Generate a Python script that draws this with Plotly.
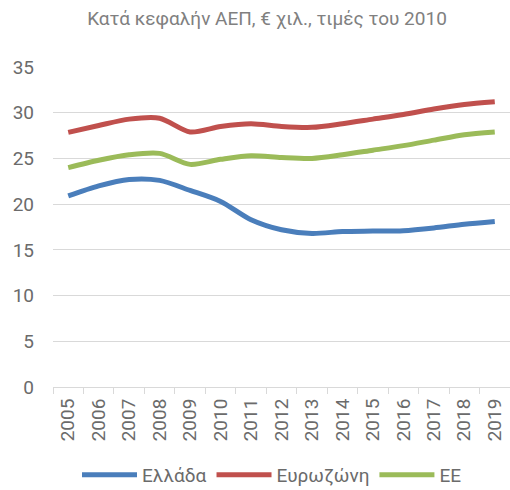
import plotly.graph_objects as go

years = [str(y) for y in range(2005, 2020)]
greece = [20.9, 22.0, 22.7, 22.6, 21.5, 20.3, 18.3, 17.2, 16.8, 17.0, 17.05, 17.1, 17.4, 17.8, 18.1]
eurozone = [27.85, 28.6, 29.3, 29.4, 27.9, 28.5, 28.8, 28.5, 28.4, 28.8, 29.3, 29.8, 30.4, 30.9, 31.2]
eu = [24.0, 24.8, 25.4, 25.55, 24.35, 24.9, 25.3, 25.1, 25.0, 25.4, 25.9, 26.4, 27.0, 27.6, 27.9]

names = ["Ελλάδα", "Ευρωζώνη", "ΕΕ"]
colors = ["#4A7EBB", "#C0504D", "#9BBB59"]
title = "Κατά κεφαλήν ΑΕΠ, € χιλ., τιμές του 2010"

font = "Roboto"
grey = "#6b6b6b"

fig = go.Figure()
for name, vals, col in zip(names, [greece, eurozone, eu], colors):
    fig.add_trace(go.Scatter(x=years, y=vals, name=name, mode="lines",
                             line=dict(color=col, width=5, shape="spline", smoothing=0.8)))

fig.update_layout(
    width=510, height=490,
    margin=dict(l=53, r=0, t=67, b=103, autoexpand=False),
    paper_bgcolor="white", plot_bgcolor="white",
    font=dict(family=font, color=grey, size=19),
    title=dict(text=title, x=267/510, xanchor="center", y=1-18/490, yanchor="middle",
               font=dict(family=font, size=19, color="#808080"), automargin=False),
    showlegend=True,
    legend=dict(orientation="h", xref="container", yref="container",
                x=272/510, xanchor="center", y=1-456/490, yanchor="top",
                font=dict(size=19, color=grey), itemwidth=55, traceorder="normal"),
    xaxis=dict(type="category", range=[-0.5, len(years) - 0.5], tickson="boundaries",
               ticks="outside", ticklen=6, ticklabelstandoff=3,
               tickcolor="#d9d9d9", showline=True, linecolor="#d9d9d9", linewidth=1,
               showgrid=False, tickangle=-90, tickfont=dict(size=19, color=grey),
               automargin=False, fixedrange=True),
    yaxis=dict(range=[0, 35], dtick=5, showgrid=True, gridcolor="#d9d9d9", gridwidth=1,
               zeroline=False, showline=False, ticks="", ticklabelstandoff=18,
               tickfont=dict(size=19, color=grey), automargin=False, fixedrange=True),
)

fig.write_html("out.html", post_script="document.body.style.margin='0';",
               config={"displayModeBar": False})
